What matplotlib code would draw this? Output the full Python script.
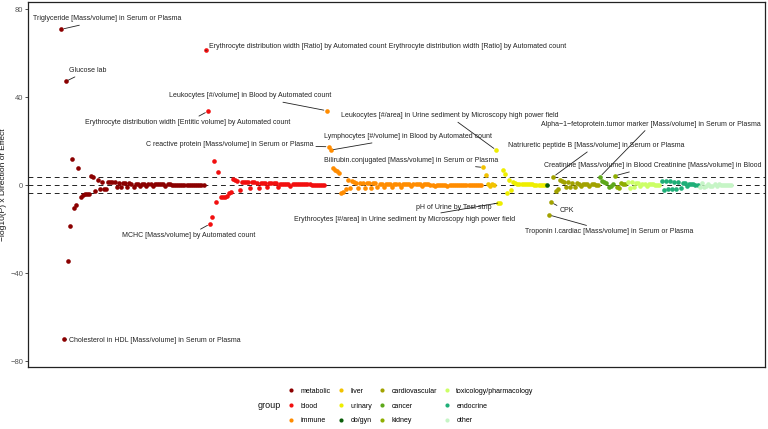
import matplotlib.pyplot as plt
from matplotlib.lines import Line2D

plt.rcParams['font.family'] = ['Liberation Sans', 'DejaVu Sans']

# group order and colours
groups = ['metabolic', 'blood', 'immune', 'liver', 'urinary', 'ob/gyn',
          'cardiovascular', 'cancer', 'kidney', 'toxicology/pharmacology',
          'endocrine', 'other']
group_colors = ['#8B0000', '#F20F0F', '#FF8C00', '#F2C200', '#EEEE00', '#0B5E0B',
                '#A2A200', '#5DA81A', '#8FAE00', '#CCFF66', '#1FAF78', '#C6F5C6']

# signed -log10(P), in plot order within each group
metabolic = [70.8, -70.1, 47.1, -34.4, -18.6, 12.0, -10.6, -9.1, 7.9, -5.3,
             -4.3, -4.2, -4.2, -4.1, 4.2, 3.5, -2.7, 2.3, -2.0, 1.5,
             -1.7, -1.6, 1.5, 1.4,
             1.3, 1.2, -1.1, 1.1, -1.0, 0.9, 0.9, -0.8, 0.8, 0.7,
             -0.7, 0.7, 0.6, -0.6, 0.6, 0.5, -0.5, 0.5, 0.5, -0.4,
             0.4, 0.4, 0.4, 0.3, 0.3, -0.3, 0.3, 0.3, 0.2, 0.2,
             0.2, 0.2, 0.2, 0.1, 0.1, 0.1, 0.1, 0.1, 0.1, 0.1,
             0.0, 0.0, 0.0, 0.0]
blood = [61.2, 33.5, -17.7, -14.5, 10.9, -7.6, 5.8, -5.5, -5.4, -5.3,
         -5.2, -3.8, -3.0, 2.6, 2.3, 2.0, -2.3, 1.5,
         1.5, 1.4, 1.3, -1.3, 1.2, 1.2, 1.1, -1.2, 1.1, 1.0,
         1.0, -0.9, 0.9, 0.9, 0.8, 0.8, -0.7, 0.7, 0.7, 0.6,
         0.6, 0.5, -0.5, 0.5, 0.5, 0.4, 0.4, 0.4, 0.3, 0.3,
         0.3, 0.3, 0.2, 0.2, 0.2, 0.2, 0.1, 0.1, 0.1]
immune = [33.8, 17.4, 15.9, 7.6, 6.8, 6.2, 5.6, -3.8, -3.0, -2.0, 2.3, -1.5, 1.8,
          1.2, 1.1, -1.5, 1.0, 1.0, -1.2, 0.9, 0.9, -1.2, 0.8,
          0.8, -1.0, 0.7, 0.7, -0.9, 0.6, 0.6, 0.6, -0.8, 0.5,
          0.5, 0.5, -0.7, 0.5, 0.4, 0.4, 0.4, -0.6, 0.4, 0.3,
          0.3, 0.3, -0.5, 0.3, 0.3, 0.3, 0.2, 0.2, -0.4, 0.2,
          0.2, 0.2, 0.2, 0.2, -0.3, 0.2, 0.1, 0.1, 0.1, 0.1,
          0.1, 0.1, 0.1, 0.1, 0.1, 0.0, 0.0, 0.0, 0.0, 0.0, 0.0]
liver = [8.0, 4.5, 0.6, -0.4, 0.3, -0.2]
urinary = [15.9, -8.3, -8.0, 6.8, 5.0, -3.6, 2.3, -2.3, 1.5,
           0.8, 0.6, 0.5, 0.5, 0.4, 0.4, 0.3, 0.3, 0.3, 0.2, 0.2, 0.2, 0.1, 0.1, 0.1]
obgyn = [0.1]
cardiovascular = [-13.6, -7.9, 3.8, -2.7, -1.7,
                  2.3, 1.8, 1.5, -1.0, 1.2, -0.9, 0.9, -0.8, 0.8, 0.7,
                  -0.6, 0.6, 0.5, 0.5, -0.4, 0.4, 0.3, 0.2, 0.1]
cancer = [3.8, 2.0, 1.5, 0.8, -0.8, -0.5, 0.3]
kidney = [4.2, -1.0, -1.2, 0.8, 0.5, 0.3]
toxicology = [1.5, -1.2, 1.2, -0.9, 1.0, 0.8, -0.6, 0.7, 0.5, -0.4,
              0.4, 0.3, 0.3, 0.2, 0.1, 0.1]
endocrine = [2.0, -2.1, 1.9, -1.9, 1.8, -1.8, 1.6, -1.6, 1.4, -1.2,
             1.0, 0.8, -0.6, 0.6, 0.4, 0.3, 0.2, 0.1]
other = [-1.0, 0.8, -0.7, -0.6, 0.5, -0.5, -0.4, 0.4, -0.3, 0.3,
         -0.2, 0.2, -0.1, 0.1, 0.0, 0.0]

group_values = [metabolic, blood, immune, liver, urinary, obgyn, cardiovascular,
                cancer, kidney, toxicology, endocrine, other]

threshold = 3.8

# labelled points: (group, position in group, text)
labels = [
    ('metabolic', 0, 'Triglyceride [Mass/volume] in Serum or Plasma'),
    ('metabolic', 2, 'Glucose lab'),
    ('metabolic', 1, 'Cholesterol in HDL [Mass/volume] in Serum or Plasma'),
    ('blood', 0, 'Erythrocyte distribution width [Ratio] by Automated count '
                 'Erythrocyte distribution width [Ratio] by Automated count'),
    ('blood', 1, 'Erythrocyte distribution width [Entitic volume] by Automated count'),
    ('blood', 2, 'MCHC [Mass/volume] by Automated count'),
    ('immune', 0, 'Leukocytes [#/volume] in Blood by Automated count'),
    ('immune', 1, 'C reactive protein [Mass/volume] in Serum or Plasma'),
    ('immune', 2, 'Lymphocytes [#/volume] in Blood by Automated count'),
    ('liver', 0, 'Bilirubin.conjugated [Mass/volume] in Serum or Plasma'),
    ('urinary', 0, 'Leukocytes [#/area] in Urine sediment by Microscopy high power field'),
    ('urinary', 1, 'pH of Urine by Test strip'),
    ('urinary', 2, 'Erythrocytes [#/area] in Urine sediment by Microscopy high power field'),
    ('cancer', 0, 'Alpha\u22121\u2212fetoprotein.tumor marker [Mass/volume] in Serum or Plasma'),
    ('cardiovascular', 2, 'Natriuretic peptide B [Mass/volume] in Serum or Plasma'),
    ('kidney', 0, 'Creatinine [Mass/volume] in Blood Creatinine [Mass/volume] in Blood'),
    ('cardiovascular', 1, 'CPK'),
    ('cardiovascular', 0, 'Troponin I.cardiac [Mass/volume] in Serum or Plasma'),
]
# where the label text sits (x index, y), same order as labels
label_xy = [(21.4, 75.5), (12.3, 52.0), (44.2, -70.5), (153.9, 63.2), (59.3, 28.5),
            (60.2, -22.9), (89.2, 40.5), (79.2, 18.6), (163.5, 22.0), (164.7, 11.2),
            (182.9, 31.4), (184.9, -10.3), (161.7, -15.5), (278.1, 27.6), (252.0, 17.9),
            (278.9, 8.8), (238.4, -11.7), (258.2, -21.2)]

fig = plt.figure(figsize=(7.68, 4.29), dpi=100)
ax = fig.add_axes([28 / 768, 1 - 367 / 429, 737 / 768, 365 / 429])

start = {}
pos = 0
for name, vals, col in zip(groups, group_values, group_colors):
    start[name] = pos
    xs = list(range(pos, pos + len(vals)))
    ax.scatter(xs, vals, s=11, color=col, linewidths=0, zorder=3)
    pos += len(vals)
n_total = pos

for yv in (threshold, 0, -threshold):
    ax.axhline(yv, color='#222222', lw=0.7, ls=(0, (5, 4)), zorder=2)

for (g, i, txt), (tx, ty) in zip(labels, label_xy):
    gi = groups.index(g)
    px = start[g] + i
    py = group_values[gi][i]
    ax.annotate(txt, xy=(px, py), xytext=(tx, ty), ha='center', va='center',
                fontsize=5, color='#222222', zorder=4,
                arrowprops=dict(arrowstyle='-', color='#222222', lw=0.6,
                                shrinkA=0, shrinkB=2))

ax.set_xlim(-0.05 * (n_total - 1), (n_total - 1) * 1.05)
ax.set_ylim(-82.7, 83.2)
ax.set_xticks([])
ax.set_yticks([80, 40, 0, -40, -80])
ax.set_yticklabels(['80', '40', '0', '\u221240', '\u221280'])
ax.tick_params(axis='y', labelsize=5.5, labelcolor='#555555', color='#333333',
               length=2.5, width=0.6, pad=1)
ax.set_ylabel('\u2212log10(P) x Direction of Effect', fontsize=6, color='#111111')
ax.yaxis.set_label_coords(-0.029, 0.5)
for sp in ax.spines.values():
    sp.set_color('#222222')
    sp.set_linewidth(0.9)

handles = [Line2D([], [], marker='o', ls='', markersize=3, color=c,
                  markeredgewidth=0) for c in group_colors]
fig.legend(handles, groups, ncol=4, frameon=False, fontsize=5,
           loc='center', bbox_to_anchor=(411 / 768, 1 - 406 / 429),
           handlelength=0.8, handletextpad=1.0, columnspacing=1.0,
           labelspacing=1.1)
fig.text(258 / 768, 1 - 406 / 429, 'group', fontsize=6.5, va='center', ha='left',
         color='#111111')

fig.savefig('out.png', dpi=100)
